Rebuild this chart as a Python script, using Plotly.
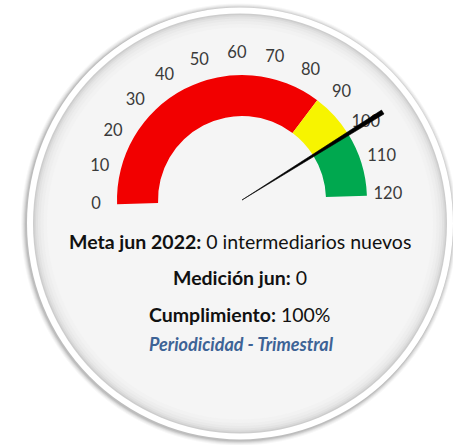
import plotly.graph_objects as go

# ---- data ----
band_edges = [0, 86, 100, 120]
band_colors = ["#f20000", "#f7f400", "#00a84f"]
tick_values = [0, 10, 20, 30, 40, 50, 60, 70, 80, 90, 100, 110, 120]
tick_labels = ["0", "10", "20", "30", "40", "50", "60", "70", "80", "90", "100", "110", "120"]
needle_value = 100
gauge_max = 120

line_meta = "<b>Meta jun 2022:</b> 0 intermediarios nuevos"
line_medicion = "<b>Medición jun:</b> 0"
line_cumpl = "<b>Cumplimiento:</b> 100%"
line_period = "<b><i>Periodicidad - Trimestral</i></b>"

W, H = 453, 445
DEG = 180.0 / gauge_max  # degrees per gauge unit

# radii in polar radial units (range 0..175)
R_IN, R_OUT, R_LAB, R_NEEDLE, R_MAX = 84, 125, 146, 166, 175
CX, CY = 242, 200  # gauge centre in pixels

fig = go.Figure()

# gauge bands
for i, col in enumerate(band_colors):
    a, b = band_edges[i], band_edges[i + 1]
    fig.add_trace(go.Barpolar(
        r=[R_OUT - R_IN], base=[R_IN],
        theta=[(a + b) / 2 * DEG], width=[(b - a) * DEG],
        marker=dict(color=col, line=dict(width=0)),
        hoverinfo="skip", showlegend=False))

# tick labels
fig.add_trace(go.Scatterpolar(
    r=[R_LAB] * len(tick_values), theta=[v * DEG for v in tick_values],
    mode="text", text=tick_labels,
    textfont=dict(family="Lato", size=16.5, color="#3a3a3a"),
    hoverinfo="skip", showlegend=False, cliponaxis=False))

# needle (tapered)
th = needle_value * DEG
d = 0.8
fig.add_trace(go.Scatterpolar(
    r=[0, R_NEEDLE, R_NEEDLE, 0], theta=[th, th - d, th + d, th],
    mode="lines", fill="toself", fillcolor="#000000",
    line=dict(color="#000000", width=0.6),
    hoverinfo="skip", showlegend=False))

fig.update_layout(
    width=W, height=H, margin=dict(l=0, r=0, t=0, b=0),
    paper_bgcolor="white", plot_bgcolor="white",
    polar=dict(
        domain=dict(x=[(CX - R_MAX) / W, (CX + R_MAX) / W],
                    y=[(H - CY - R_MAX) / H, (H - CY + R_MAX) / H]),
        bgcolor="rgba(0,0,0,0)",
        radialaxis=dict(visible=False, range=[0, R_MAX]),
        angularaxis=dict(visible=False, rotation=182, direction="clockwise",
                         showgrid=False, showline=False, ticks=""),
        bargap=0,
    ),
)

# background disc (shapes in paper coords)
def ell(cx, cy, rx, ry, fill, lw=0, lc=None):
    fig.add_shape(type="circle", xref="paper", yref="paper", layer="below",
                  x0=(cx - rx) / W, x1=(cx + rx) / W,
                  y0=1 - (cy + ry) / H, y1=1 - (cy - ry) / H,
                  fillcolor=fill, line=dict(width=lw, color=lc or fill))

DX, DY = 240, 223.5
for k, op in [(5, 0.03), (4, 0.04), (3, 0.05), (2, 0.07), (1, 0.09)]:
    ell(DX - 1, DY + 1, 213 + k, 216 + k, "rgba(0,0,0,%.2f)" % op)
ell(DX, DY, 213, 216, "#ffffff")
inner = [(207, "#cdcdcd"), (205.5, "#d9d9d9"), (204, "#e2e2e2"), (202, "#e9e9e9"),
         (199.5, "#eeeeee"), (196.5, "#f2f2f2"), (193, "#f5f5f5")]
for rr, c in inner:
    ell(DX, DY, rr, rr + 3, c)

# text lines
def txt(s, py, size, color, px=240):
    fig.add_annotation(text=s, xref="paper", yref="paper", x=px / W, y=1 - py / H,
                       showarrow=False, xanchor="center", yanchor="middle",
                       font=dict(family="Lato", size=size, color=color))

txt(line_meta, 241, 19.5, "#111111")
txt(line_medicion, 277, 19.5, "#111111")
txt(line_cumpl, 314, 19.5, "#111111")
txt(line_period, 344, 18, "#3d6396", px=242)

fig.write_html("out.html", config={"displayModeBar": False},
               post_script="document.body.style.margin='0';")
